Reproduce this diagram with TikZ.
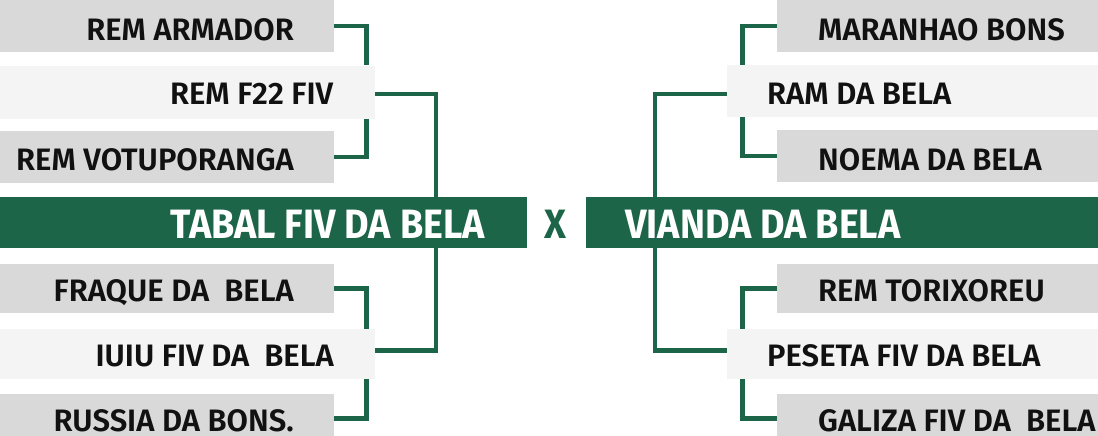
\documentclass[tikz,border=0pt]{standalone}
\usepackage{fontspec}
\newfontfamily\boxfont{Fira Sans}[UprightFont={* SemiBold}]
\newfontfamily\barfont{Fira Sans}[UprightFont={* Bold}, FakeStretch=0.92]
\definecolor{brgreen}{HTML}{1D6549}
\definecolor{boxgray}{HTML}{D9D9D9}
\definecolor{boxlight}{HTML}{F4F4F4}
\definecolor{txtdark}{HTML}{111111}
\tikzset{
  gbox/.style={rectangle, fill=boxgray, draw=none, inner sep=0pt, anchor=north west},
  lbox/.style={rectangle, fill=boxlight, draw=none, inner sep=0pt, anchor=north west},
  bar/.style={rectangle, fill=brgreen, draw=none, inner sep=0pt, anchor=north west},
  btxt/.style={inner sep=0pt, text depth=0pt, text=txtdark, font=\boxfont\fontsize{31}{31}\selectfont},
  bartxt/.style={inner sep=0pt, text depth=0pt, text=white, font=\barfont\fontsize{41}{41}\selectfont},
  vstxt/.style={inner sep=0pt, text depth=0pt, text=brgreen, font=\barfont\fontsize{41}{41}\selectfont},
  conn/.style={draw=brgreen, line width=4.5pt, line cap=butt, line join=miter}
}
\begin{document}
\begin{tikzpicture}[x=1pt,y=-1pt]
\clip (0,0) rectangle (1098,436);
\fill[white] (0,0) rectangle (1098,436);
% left boxes
\node[gbox, minimum width=334pt, minimum height=52pt] (a1) at (0,0) {};
\node[lbox, minimum width=375pt, minimum height=53pt] (a2) at (0,65.5) {};
\node[gbox, minimum width=334pt, minimum height=52pt] (a3) at (0,131) {};
\node[bar, minimum width=527pt, minimum height=51pt] (lbar) at (0,197) {};
\node[gbox, minimum width=334pt, minimum height=49pt] (b1) at (0,264) {};
\node[lbox, minimum width=375pt, minimum height=50pt] (b2) at (0,329) {};
\node[gbox, minimum width=334pt, minimum height=49pt] (b3) at (0,394) {};
% right boxes
\node[gbox, minimum width=321.3pt, minimum height=52pt] (c1) at (776.7,0) {};
\node[lbox, minimum width=371.3pt, minimum height=52pt] (c2) at (726.7,65) {};
\node[gbox, minimum width=321.3pt, minimum height=52pt] (c3) at (776.7,130) {};
\node[bar, minimum width=512pt, minimum height=51pt] (rbar) at (586,197) {};
\node[gbox, minimum width=321.3pt, minimum height=49pt] (d1) at (776.7,264) {};
\node[lbox, minimum width=371.3pt, minimum height=50pt] (d2) at (726.7,329) {};
\node[gbox, minimum width=321.3pt, minimum height=49pt] (d3) at (776.7,394) {};
% texts
\node[btxt, anchor=base east] (a1t) at (294,40.5) {REM ARMADOR};
\node[btxt, anchor=base east] (a2t) at (333.5,104) {REM F22 FIV};
\node[btxt, anchor=base east] (a3t) at (294,170.5) {REM VOTUPORANGA};
\node[bartxt, anchor=base east] (lbart) at (485,238) {TABAL FIV DA BELA};
\node[btxt, anchor=base east] (b1t) at (294,301) {FRAQUE DA\ \ BELA};
\node[btxt, anchor=base east] (b2t) at (334,366.5) {IUIU FIV DA\ \ BELA};
\node[btxt, anchor=base east] (b3t) at (294,431) {RUSSIA DA BONS.};
\node[btxt, anchor=base west] (c1t) at (818,40.5) {MARANHAO BONS};
\node[btxt, anchor=base west] (c2t) at (767,104) {RAM DA BELA};
\node[btxt, anchor=base west] (c3t) at (818,170.5) {NOEMA DA BELA};
\node[bartxt, anchor=base west] (rbart) at (625,238) {VIANDA DA BELA};
\node[btxt, anchor=base west] (d1t) at (818,301) {REM TORIXOREU};
\node[btxt, anchor=base west] (d2t) at (767,366.5) {PESETA FIV DA BELA};
\node[btxt, anchor=base west] (d3t) at (818,431) {GALIZA FIV DA\ \ BELA};
\node[vstxt, anchor=base] (vs) at (555.5,238) {X};
% connector columns
\coordinate (lx1) at (366.5,0);
\coordinate (lx2) at (436,0);
\coordinate (rx1) at (742.5,0);
\coordinate (rx2) at (655,0);
% left connectors
\draw[conn] (a1.east) -| (lx1 |- a2.north);
\draw[conn] (a3.east) -| (lx1 |- a2.south);
\draw[conn] ([yshift=-2pt]a2.east) -| (lx2 |- lbar.north);
\draw[conn] (lx2 |- lbar.south) |- ([yshift=3.5pt]b2.east);
\draw[conn] (b1.east) -| (lx1 |- b2.north);
\draw[conn] (b3.east) -| (lx1 |- b2.south);
% right connectors
\draw[conn] (c1.west) -| (rx1 |- c2.north);
\draw[conn] (c3.west) -| (rx1 |- c2.south);
\draw[conn] ([yshift=-3pt]c2.west) -| (rx2 |- rbar.north);
\draw[conn] (rx2 |- rbar.south) |- ([yshift=3.5pt]d2.west);
\draw[conn] (d1.west) -| (rx1 |- d2.north);
\draw[conn] (d3.west) -| (rx1 |- d2.south);
\end{tikzpicture}
\end{document}
